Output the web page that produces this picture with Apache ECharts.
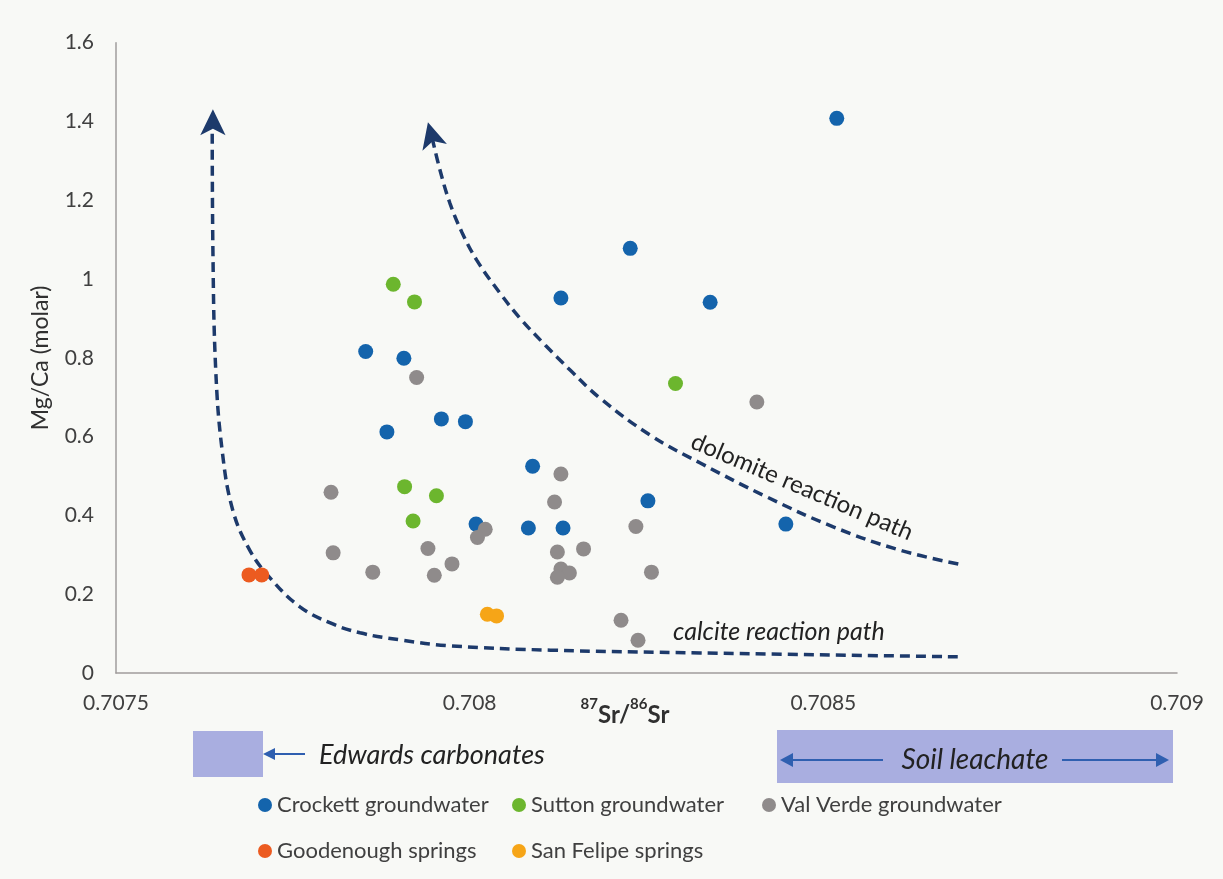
<!DOCTYPE html>
<html>
<head>
<meta charset="utf-8">
<script src="https://cdn.jsdelivr.net/npm/echarts@6/dist/echarts.min.js"></script>
<style>
html,body{margin:0;padding:0;background:#f8f9f6;}
#chart{width:1223px;height:879px;}
</style>
</head>
<body>
<div id="chart"></div>
<script>
// ---- data ----
const xTickLabels = ['0.7075', '0.708', '0.7085', '0.709'];
const yTickLabels = ['0', '0.2', '0.4', '0.6', '0.8', '1', '1.2', '1.4', '1.6'];

const crockett = [
  [0.708519, 1.408], [0.708227, 1.078], [0.708129, 0.952], [0.708340, 0.941],
  [0.707853, 0.816], [0.707907, 0.799], [0.707960, 0.645], [0.707994, 0.638],
  [0.707883, 0.612], [0.708089, 0.525], [0.708252, 0.437], [0.708009, 0.378],
  [0.708083, 0.368], [0.708132, 0.368], [0.708447, 0.378]
];
const sutton = [
  [0.707892, 0.987], [0.707922, 0.942], [0.708291, 0.735],
  [0.707908, 0.473], [0.707953, 0.450], [0.707920, 0.386]
];
const valVerde = [
  [0.707925, 0.750], [0.708406, 0.688], [0.707804, 0.459], [0.708129, 0.505],
  [0.708120, 0.434], [0.708022, 0.365], [0.708011, 0.344], [0.708235, 0.372],
  [0.707807, 0.305], [0.707941, 0.316], [0.708124, 0.307], [0.708161, 0.315],
  [0.707975, 0.277], [0.707863, 0.256], [0.707950, 0.248], [0.708129, 0.264],
  [0.708141, 0.254], [0.708124, 0.243], [0.708257, 0.256], [0.708214, 0.134],
  [0.708238, 0.083]
];
const goodenough = [[0.707688, 0.249], [0.707706, 0.249]];
const sanFelipe = [[0.708025, 0.149], [0.708038, 0.145]];

const calcitePath = [
  [0.707636, 1.409], [0.707637, 1.074], [0.707641, 0.769], [0.707650, 0.566],
  [0.707665, 0.414], [0.707689, 0.312], [0.707718, 0.241], [0.707760, 0.168],
  [0.707803, 0.127], [0.707845, 0.102], [0.707902, 0.084], [0.707972, 0.069],
  [0.708114, 0.058], [0.708326, 0.051], [0.708696, 0.041]
];
const dolomitePath = [
  [0.707947, 1.358], [0.707958, 1.277], [0.707972, 1.193], [0.707989, 1.119],
  [0.708010, 1.048], [0.708043, 0.964], [0.708071, 0.901], [0.708107, 0.832],
  [0.708142, 0.769], [0.708184, 0.698], [0.708255, 0.604], [0.708326, 0.533],
  [0.708420, 0.447], [0.708514, 0.371], [0.708608, 0.312], [0.708698, 0.274]
];
const calciteArrow = [[0.707637, 1.431]];
const dolomiteArrow = [[0.707941, 1.398]];

const seriesNames = ['Crockett groundwater', 'Sutton groundwater', 'Val Verde groundwater', 'Goodenough springs', 'San Felipe springs'];
const seriesColors = ['#1464ac', '#6cb62e', '#8f8b8b', '#ec5b20', '#f6a517'];
const seriesData = [crockett, sutton, valVerde, goodenough, sanFelipe];

// ---- chart ----
const FONT = 'Lato, "Open Sans", sans-serif';
const NAVY = '#1d3a6b';
const chart = echarts.init(document.getElementById('chart'), null, {renderer: 'canvas'});

const legendPos = [[258, 794], [512, 794], [762, 794], [258, 840], [512, 840]];
const legends = seriesNames.map((n, i) => ({
  data: [n], left: legendPos[i][0], top: legendPos[i][1], padding: 0,
  icon: 'circle', itemWidth: 14, itemHeight: 14, selectedMode: false,
  textStyle: {fontFamily: FONT, fontSize: 22, color: '#404040'}
}));

const pathStyle = {color: NAVY, width: 3.5, type: [10, 6]};

const series = [
  {type: 'line', data: calcitePath, smooth: 0.4, showSymbol: false, silent: true, lineStyle: pathStyle, z: 1},
  {type: 'line', data: dolomitePath, smooth: 0.4, showSymbol: false, silent: true, lineStyle: pathStyle, z: 1},
  {type: 'scatter', data: calciteArrow, symbol: 'arrow', symbolSize: [19, 26], symbolRotate: 0, silent: true, itemStyle: {color: NAVY, opacity: 1}, z: 1},
  {type: 'scatter', data: dolomiteArrow, symbol: 'arrow', symbolSize: [19, 26], symbolRotate: 15, silent: true, itemStyle: {color: NAVY, opacity: 1}, z: 1}
];
seriesNames.forEach((n, i) => {
  series.push({
    name: n, type: 'scatter', data: seriesData[i], symbol: 'circle', symbolSize: 15,
    itemStyle: {color: seriesColors[i], opacity: 1}, z: 3
  });
});

const option = {
  backgroundColor: '#f8f9f6',
  animation: false,
  grid: {left: 116, right: 46, top: 42.7, bottom: 206},
  legend: legends,
  xAxis: {
    type: 'value', min: 0.7075, max: 0.709, interval: 0.0005,
    axisLine: {show: true, lineStyle: {color: '#a09c9c', width: 1.5}},
    axisTick: {show: false}, splitLine: {show: false},
    axisLabel: {
      fontFamily: FONT, fontSize: 21, color: '#404040', margin: 20,
      formatter: v => { const k = Math.round((v - 0.7075) / 0.0005); return xTickLabels[k] || ''; }
    },
    name: '{sup|87}{b|Sr/}{sup|86}{b|Sr}', nameLocation: 'middle', nameGap: 24,
    nameMoveOverlap: false,
    nameTextStyle: {
      padding: [0, 43, 0, 0],
      rich: {
        b: {fontFamily: FONT, fontSize: 24, fontWeight: 'bold', color: '#303030', lineHeight: 30, verticalAlign: 'bottom'},
        sup: {fontFamily: FONT, fontSize: 15, fontWeight: 'bold', color: '#303030', lineHeight: 30, verticalAlign: 'top'}
      }
    }
  },
  yAxis: {
    type: 'value', min: 0, max: 1.6, interval: 0.2,
    axisLine: {show: true, lineStyle: {color: '#a09c9c', width: 1.5}},
    axisTick: {show: false}, splitLine: {show: false},
    axisLabel: {
      fontFamily: FONT, fontSize: 21, color: '#404040', margin: 22,
      formatter: v => { const k = Math.round(v / 0.2); return yTickLabels[k] || ''; }
    },
    name: 'Mg/Ca (molar)', nameLocation: 'middle', nameGap: 64,
    nameMoveOverlap: false,
    nameTextStyle: {fontFamily: FONT, fontSize: 23, color: '#303030'}
  },
  series: series,
  graphic: [
    {type: 'text', left: 673, top: 619, silent: true,
     style: {text: 'calcite reaction path', font: 'italic 25px ' + FONT, fill: '#222'}},
    {type: 'text', x: 802, y: 487, rotation: -23 * Math.PI / 180, silent: true,
     style: {text: 'dolomite reaction path', font: '24px ' + FONT, fill: '#222', align: 'center', verticalAlign: 'middle'}},
    // Edwards carbonates
    {type: 'rect', shape: {x: 193, y: 731, width: 70, height: 46}, style: {fill: '#a9aee0'}, silent: true},
    {type: 'line', shape: {x1: 305, y1: 754, x2: 272, y2: 754}, style: {stroke: '#2f5fb0', lineWidth: 2}, silent: true},
    {type: 'polygon', shape: {points: [[263, 754], [275, 748], [275, 760]]}, style: {fill: '#2f5fb0'}, silent: true},
    {type: 'text', x: 319, y: 755, silent: true,
     style: {text: 'Edwards carbonates', font: 'italic 27px ' + FONT, fill: '#222', verticalAlign: 'middle'}},
    // Soil leachate
    {type: 'rect', shape: {x: 777, y: 730, width: 396, height: 53}, style: {fill: '#a9aee0'}, silent: true},
    {type: 'line', shape: {x1: 883, y1: 760, x2: 790, y2: 760}, style: {stroke: '#2f5fb0', lineWidth: 2}, silent: true},
    {type: 'polygon', shape: {points: [[780, 760], [793, 753], [793, 767]]}, style: {fill: '#2f5fb0'}, silent: true},
    {type: 'line', shape: {x1: 1062, y1: 760, x2: 1158, y2: 760}, style: {stroke: '#2f5fb0', lineWidth: 2}, silent: true},
    {type: 'polygon', shape: {points: [[1169, 760], [1156, 753], [1156, 767]]}, style: {fill: '#2f5fb0'}, silent: true},
    {type: 'text', x: 975, y: 760, silent: true,
     style: {text: 'Soil leachate', font: 'italic 28px ' + FONT, fill: '#222', align: 'center', verticalAlign: 'middle'}}
  ]
};
chart.setOption(option);
</script>
</body>
</html>
